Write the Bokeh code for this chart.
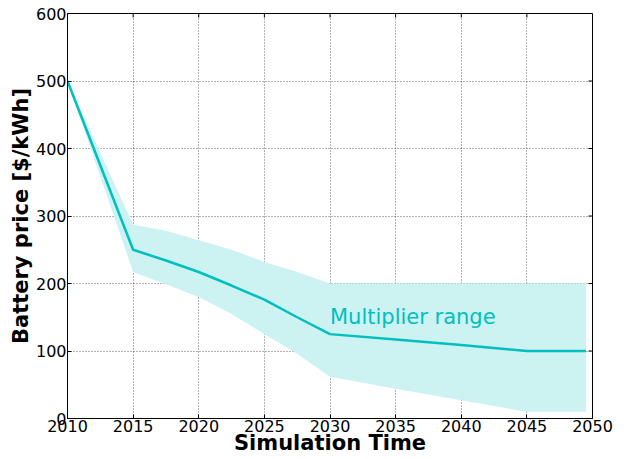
import math
from bokeh.plotting import figure
from bokeh.models import ColumnDataSource, FixedTicker, Range1d
from bokeh.core.properties import value
from bokeh.embed import file_html
from bokeh.resources import INLINE

# Data
years = [2010, 2015, 2017.5, 2020, 2022.5, 2025, 2027.5, 2030, 2035, 2040, 2045, 2049.5]
price = [500, 250, 234, 217, 197, 176, 150, 125, 117, 109, 100, 100]
upper = [500, 287, 278, 264, 250, 232, 217, 200, 200, 200, 200, 200]
lower = [500, 217, 199, 180, 155, 125, 96, 62, 44, 27, 10, 10]

x_ticks = [2010, 2015, 2020, 2025, 2030, 2035, 2040, 2045, 2050]
y_ticks = [0, 100, 200, 300, 400, 500, 600]

label_x = [2030]
label_y = [150]
label_text = ["Multiplier range"]

X_MIN, X_MAX = 2010, 2050
Y_MIN, Y_MAX = 0, 600

CYAN = "#00BFBF"
BAND = "#CCF2F2"
FONT = "DejaVu Sans"

src = ColumnDataSource(dict(year=years, price=price, upper=upper, lower=lower))
lab = ColumnDataSource(dict(x=label_x, y=label_y, t=label_text))

p = figure(width=624, height=459,
           x_range=Range1d(X_MIN, X_MAX), y_range=Range1d(Y_MIN, Y_MAX),
           output_backend="svg", toolbar_location=None,
           min_border_left=67, min_border_right=32,
           min_border_top=13, min_border_bottom=41,
           background_fill_color="white", border_fill_color="white")

p.varea(x="year", y1="lower", y2="upper", source=src, fill_color=BAND, fill_alpha=1.0)
p.line(x="year", y="price", source=src, line_color=CYAN, line_width=2.5)
p.text(x="x", y="y", text="t", source=lab, text_color=CYAN,
       text_font=value(FONT), text_font_size="21px",
       text_align="left", text_baseline="alphabetic")

# inward tick marks on the right and top spines
p.dash(x=[X_MAX] * len(y_ticks), y=y_ticks, size=8, angle=0,
       line_color="black", line_width=1)
p.dash(x=x_ticks, y=[Y_MAX] * len(x_ticks), size=8, angle=math.pi / 2,
       line_color="black", line_width=1)

p.outline_line_color = "black"
p.outline_line_width = 1
p.outline_line_alpha = 1

for ax, ticks in ((p.xaxis[0], x_ticks), (p.yaxis[0], y_ticks)):
    ax.ticker = FixedTicker(ticks=ticks, minor_ticks=[])
    ax.major_tick_in = 4
    ax.major_tick_out = 0
    ax.minor_tick_in = 0
    ax.minor_tick_out = 0
    ax.axis_line_color = "black"
    ax.major_tick_line_color = "black"
    ax.major_label_text_font = FONT
    ax.major_label_text_font_size = "16px"
    ax.major_label_text_color = "black"
    ax.axis_label_text_font = FONT
    ax.axis_label_text_font_size = "21px"
    ax.axis_label_text_font_style = "bold"
    ax.axis_label_text_color = "black"

p.xaxis.axis_label = "Simulation Time"
p.yaxis.axis_label = "Battery price [$/kWh]"
p.xaxis.major_label_standoff = 1
p.xaxis.axis_label_standoff = -4
p.yaxis.major_label_standoff = 1
p.yaxis.axis_label_standoff = 0

p.xgrid.ticker = FixedTicker(ticks=x_ticks)
p.ygrid.ticker = FixedTicker(ticks=y_ticks)
p.grid.grid_line_color = "black"
p.grid.grid_line_alpha = 0.6
p.grid.grid_line_dash = "1 2"
p.grid.grid_line_width = 1

open("out.html", "w").write(file_html(p, INLINE))
